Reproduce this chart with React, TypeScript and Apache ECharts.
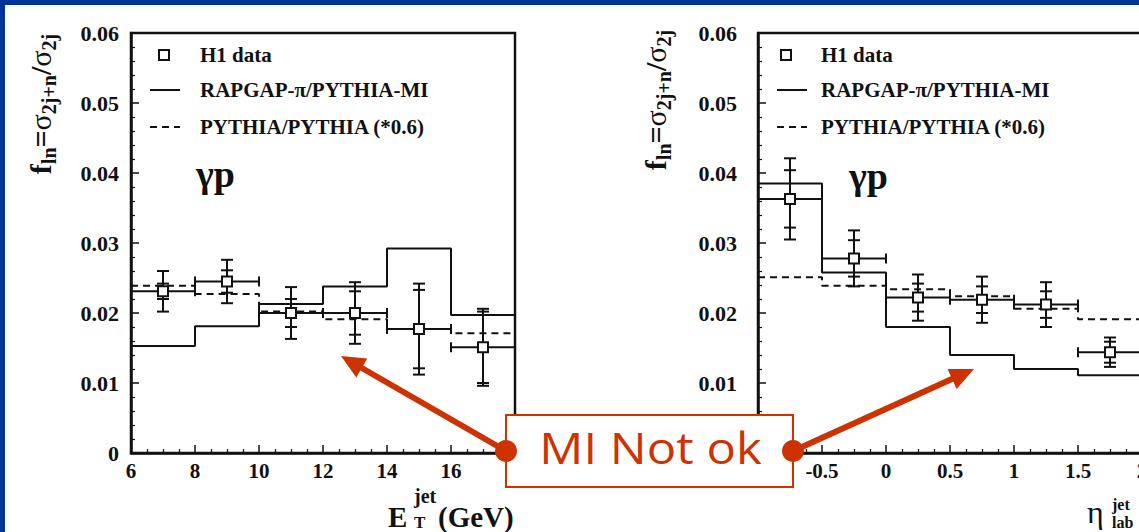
import React, { useEffect, useRef } from 'react';
import * as echarts from 'echarts';

// E_T^jet bins (GeV)
const etEdges = [6, 8, 10, 12, 14, 16, 18];
const etH1 = [0.0231, 0.0245, 0.02, 0.02, 0.0177, 0.0151];
const etStat = [0.0011, 0.0016, 0.002, 0.0031, 0.0056, 0.0051];
const etTotal = [0.0029, 0.0031, 0.0037, 0.0044, 0.0065, 0.0055];
const etRapgap = [0.0153, 0.0181, 0.0213, 0.0238, 0.0292, 0.0197];
const etPythia = [0.0239, 0.0227, 0.0202, 0.0191, 0.0177, 0.0171];

// eta_lab^jet bins
const etaEdges = [-1, -0.5, 0, 0.5, 1, 1.5, 2];
const etaH1 = [0.0363, 0.0278, 0.0222, 0.0219, 0.0212, 0.0144];
const etaStat = [0.0041, 0.0026, 0.002, 0.0019, 0.0019, 0.0015];
const etaTotal = [0.0058, 0.004, 0.0033, 0.0033, 0.0032, 0.0021];
const etaRapgap = [0.0385, 0.0258, 0.018, 0.014, 0.012, 0.0111];
const etaPythia = [0.0251, 0.0239, 0.0234, 0.0224, 0.0206, 0.0191];

const legendLabels = ['H1 data', 'RAPGAP-π/PYTHIA-MI', 'PYTHIA/PYTHIA (*0.6)'];
const processLabel = 'γp';
const calloutText = 'MI Not ok';

const INK = '#111';
const RED = '#cc3300';
const SERIF = '"Liberation Serif", "Times New Roman", Times, serif';

function histPoints(edges: number[], vals: number[]) {
  const pts = vals.map((v, i) => [edges[i], v]);
  pts.push([edges[edges.length - 1], vals[vals.length - 1]]);
  return pts;
}

function pointRows(edges: number[], vals: number[], stat: number[], tot: number[]) {
  return vals.map((v, i) => [(edges[i] + edges[i + 1]) / 2, v, edges[i], edges[i + 1], stat[i], tot[i]]);
}

function renderErrors(params: any, api: any) {
  const xc = api.value(0);
  const y = api.value(1);
  const xl = api.value(2);
  const xh = api.value(3);
  const st = api.value(4);
  const tt = api.value(5);
  const c = api.coord([xc, y]);
  const pl = api.coord([xl, y]);
  const ph = api.coord([xh, y]);
  const sHi = api.coord([xc, y + st])[1];
  const sLo = api.coord([xc, y - st])[1];
  const tHi = api.coord([xc, y + tt])[1];
  const tLo = api.coord([xc, y - tt])[1];
  const ls = { stroke: INK, lineWidth: 2 };
  const hcap = 6;
  const vcap = 5;
  const line = (x1: number, y1: number, x2: number, y2: number) => ({
    type: 'line',
    shape: { x1, y1, x2, y2 },
    style: ls,
  });
  return {
    type: 'group',
    children: [
      line(pl[0], c[1], ph[0], c[1]),
      line(pl[0], c[1] - vcap, pl[0], c[1] + vcap),
      line(ph[0], c[1] - vcap, ph[0], c[1] + vcap),
      line(c[0], tHi, c[0], tLo),
      line(c[0] - hcap, tHi, c[0] + hcap, tHi),
      line(c[0] - hcap, tLo, c[0] + hcap, tLo),
      line(c[0] - hcap, sHi, c[0] + hcap, sHi),
      line(c[0] - hcap, sLo, c[0] + hcap, sLo),
      {
        type: 'rect',
        shape: { x: c[0] - 5, y: c[1] - 5, width: 10, height: 10 },
        style: { fill: '#fff', stroke: INK, lineWidth: 2 },
      },
    ],
  };
}

const labelFont = { fontFamily: SERIF, fontWeight: 'bold' as const, color: INK };

function xAxisCfg(grid: number, min: number, max: number, interval: number, hideMax: boolean) {
  return {
    type: 'value',
    gridIndex: grid,
    min,
    max,
    interval,
    axisLine: { show: true, onZero: false, lineStyle: { color: INK, width: 2.5 } },
    axisTick: { show: true, inside: true, length: 8, lineStyle: { color: INK, width: 1.5 } },
    minorTick: { show: true, splitNumber: 4, length: 4, lineStyle: { color: INK, width: 1.2 } },
    splitLine: { show: false },
    axisLabel: {
      ...labelFont,
      fontSize: 21,
      margin: 7,
      showMaxLabel: !hideMax,
      hideOverlap: false,
      formatter: (v: number) => String(v),
    },
  };
}

function yAxisCfg(grid: number, margin: number) {
  return {
    type: 'value',
    gridIndex: grid,
    min: 0,
    max: 0.06,
    interval: 0.01,
    axisLine: { show: true, onZero: false, lineStyle: { color: INK, width: 2.5 } },
    axisTick: { show: true, inside: true, length: 8, lineStyle: { color: INK, width: 1.5 } },
    minorTick: { show: true, splitNumber: 5, length: 4, lineStyle: { color: INK, width: 1.2 } },
    splitLine: { show: false },
    axisLabel: {
      ...labelFont,
      fontSize: 22,
      margin,
      formatter: (v: number) => (v === 0 ? '0' : v.toFixed(2)),
    },
  };
}

function histSeries(grid: number, pts: number[][], dashed: boolean) {
  return {
    type: 'line',
    xAxisIndex: grid,
    yAxisIndex: grid,
    step: 'end',
    symbol: 'none',
    data: pts,
    z: 3,
    lineStyle: dashed
      ? { color: INK, width: 2, type: [7, 5] }
      : { color: INK, width: 2 },
  };
}

function legendBlock(sqX: number, lineX1: number, lineX2: number, textX: number) {
  const rows = [55, 90, 127];
  const txt = (y: number, s: string) => ({
    type: 'text',
    x: textX,
    y,
    z: 50,
    style: {
      text: s,
      fontFamily: SERIF,
      fontWeight: 'bold',
      fontSize: 21,
      fill: INK,
      align: 'left',
      verticalAlign: 'middle',
    },
  });
  return [
    {
      type: 'rect',
      z: 50,
      shape: { x: sqX - 5, y: rows[0] - 5, width: 10, height: 10 },
      style: { fill: '#fff', stroke: INK, lineWidth: 2 },
    },
    {
      type: 'line',
      z: 50,
      shape: { x1: lineX1, y1: rows[1], x2: lineX2, y2: rows[1] },
      style: { stroke: INK, lineWidth: 2 },
    },
    {
      type: 'line',
      z: 50,
      shape: { x1: lineX1, y1: rows[2], x2: lineX2, y2: rows[2] },
      style: { stroke: INK, lineWidth: 2, lineDash: [7, 5] },
    },
    txt(rows[0], legendLabels[0]),
    txt(rows[1], legendLabels[1]),
    txt(rows[2], legendLabels[2]),
  ];
}

const yTitleRich = {
  b: { fontFamily: SERIF, fontWeight: 'bold', fontSize: 30, lineHeight: 38, verticalAlign: 'middle', fill: INK },
  g: { fontFamily: SERIF, fontWeight: 'normal', fontSize: 30, lineHeight: 38, verticalAlign: 'middle', fill: INK },
  s: { fontFamily: SERIF, fontWeight: 'bold', fontSize: 20, lineHeight: 17, verticalAlign: 'bottom', fill: INK },
};

function yTitle(x: number, y: number) {
  return {
    type: 'text',
    x,
    y,
    rotation: Math.PI / 2,
    z: 50,
    style: {
      text: '{b|f}{s|ln}{b|=}{g|σ}{s|2j+n}{b|/}{g|σ}{s|2j}',
      rich: yTitleRich,
      align: 'center',
      verticalAlign: 'middle',
    },
  };
}

function plainText(x: number, y: number, s: string, size: number, weight: string, align = 'left', extra: any = {}) {
  return {
    type: 'text',
    x,
    y,
    z: 50,
    ...extra,
    style: {
      text: s,
      fontFamily: SERIF,
      fontWeight: weight,
      fontSize: size,
      fill: INK,
      align,
      verticalAlign: 'middle',
    },
  };
}

function arrow(from: number[], to: number[]) {
  const dx = to[0] - from[0];
  const dy = to[1] - from[1];
  const len = Math.hypot(dx, dy);
  const ux = dx / len;
  const uy = dy / len;
  const head = 24;
  const half = 11;
  const bx = to[0] - ux * head;
  const by = to[1] - uy * head;
  return [
    {
      type: 'line',
      z: 90,
      shape: { x1: from[0], y1: from[1], x2: bx + ux * 4, y2: by + uy * 4 },
      style: { stroke: RED, lineWidth: 6 },
    },
    {
      type: 'polygon',
      z: 90,
      shape: {
        points: [
          [to[0], to[1]],
          [bx - uy * half, by + ux * half],
          [bx + uy * half, by - ux * half],
        ],
      },
      style: { fill: RED },
    },
  ];
}

export default function App() {
  const ref = useRef<HTMLDivElement>(null);

  useEffect(() => {
    document.body.style.margin = '0';
    const el = ref.current;
    if (!el) return;
    const chart = echarts.init(el, undefined, { renderer: 'svg' });

    const boxL = 506;
    const boxR = 793;
    const boxT = 415;
    const boxB = 487;
    const boxMid = (boxT + boxB) / 2;

    const gridBase = {
      top: 33,
      height: 420,
      show: true,
      borderColor: INK,
      borderWidth: 2.5,
      backgroundColor: 'transparent',
      containLabel: false,
      outerBoundsMode: 'none',
    };

    const option: any = {
      animation: false,
      backgroundColor: '#fff',
      grid: [
        { ...gridBase, left: 131, width: 384 },
        { ...gridBase, left: 758, width: 448 },
      ],
      xAxis: [xAxisCfg(0, 6, 18, 2, true), xAxisCfg(1, -1, 2.5, 0.5, true)],
      yAxis: [yAxisCfg(0, 12), yAxisCfg(1, 21)],
      series: [
        histSeries(0, histPoints(etEdges, etRapgap), false),
        histSeries(0, histPoints(etEdges, etPythia), true),
        {
          type: 'custom',
          xAxisIndex: 0,
          yAxisIndex: 0,
          renderItem: renderErrors,
          data: pointRows(etEdges, etH1, etStat, etTotal),
          encode: { x: 0, y: 1 },
          z: 5,
        },
        histSeries(1, histPoints(etaEdges, etaRapgap), false),
        histSeries(1, histPoints(etaEdges, etaPythia), true),
        {
          type: 'custom',
          xAxisIndex: 1,
          yAxisIndex: 1,
          renderItem: renderErrors,
          data: pointRows(etaEdges, etaH1, etaStat, etaTotal),
          encode: { x: 0, y: 1 },
          z: 5,
        },
      ],
      graphic: {
        elements: [
          ...legendBlock(164, 150, 180, 200),
          ...legendBlock(786, 777, 807, 821),
          plainText(196, 174, processLabel, 38, 'bold'),
          plainText(849, 176, processLabel, 38, 'bold'),
          yTitle(40, 104),
          yTitle(655, 100),
          // E_T^jet (GeV)
          plainText(388, 517, 'E', 29, 'bold'),
          plainText(414, 496, 'jet', 20, 'bold'),
          plainText(414, 522, 'T', 17, 'bold'),
          plainText(438, 517, '(GeV)', 29, 'bold'),
          // eta_lab^jet
          plainText(1087, 512, 'η', 32, 'normal'),
          plainText(1112, 504, 'jet', 16, 'bold'),
          plainText(1112, 522, 'lab', 16, 'bold'),
          // callout
          ...arrow([boxL, boxMid], [341, 356]),
          ...arrow([boxR, boxMid], [974, 369]),
          {
            type: 'rect',
            z: 95,
            shape: { x: boxL, y: boxT, width: boxR - boxL, height: boxB - boxT },
            style: { fill: '#fff', stroke: RED, lineWidth: 2 },
          },
          {
            type: 'text',
            x: (boxL + boxR) / 2 + 1,
            y: boxMid - 3,
            z: 96,
            scaleX: 1.14,
            style: {
              text: calloutText,
              fontFamily: '"Open Sans", sans-serif',
              fontSize: 43,
              fill: RED,
              align: 'center',
              verticalAlign: 'middle',
            },
          },
          { type: 'circle', z: 97, shape: { cx: boxL, cy: boxMid, r: 11 }, style: { fill: RED } },
          { type: 'circle', z: 97, shape: { cx: boxR, cy: boxMid, r: 11 }, style: { fill: RED } },
          // slide frame
          { type: 'rect', z: 99, shape: { x: 0, y: 0, width: 1139, height: 5 }, style: { fill: '#003399' } },
          { type: 'rect', z: 99, shape: { x: 0, y: 0, width: 5, height: 532 }, style: { fill: '#003399' } },
        ],
      },
    };

    chart.setOption(option);
    return () => chart.dispose();
  }, []);

  return <div ref={ref} style={{ width: 1139, height: 532 }} />;
}
